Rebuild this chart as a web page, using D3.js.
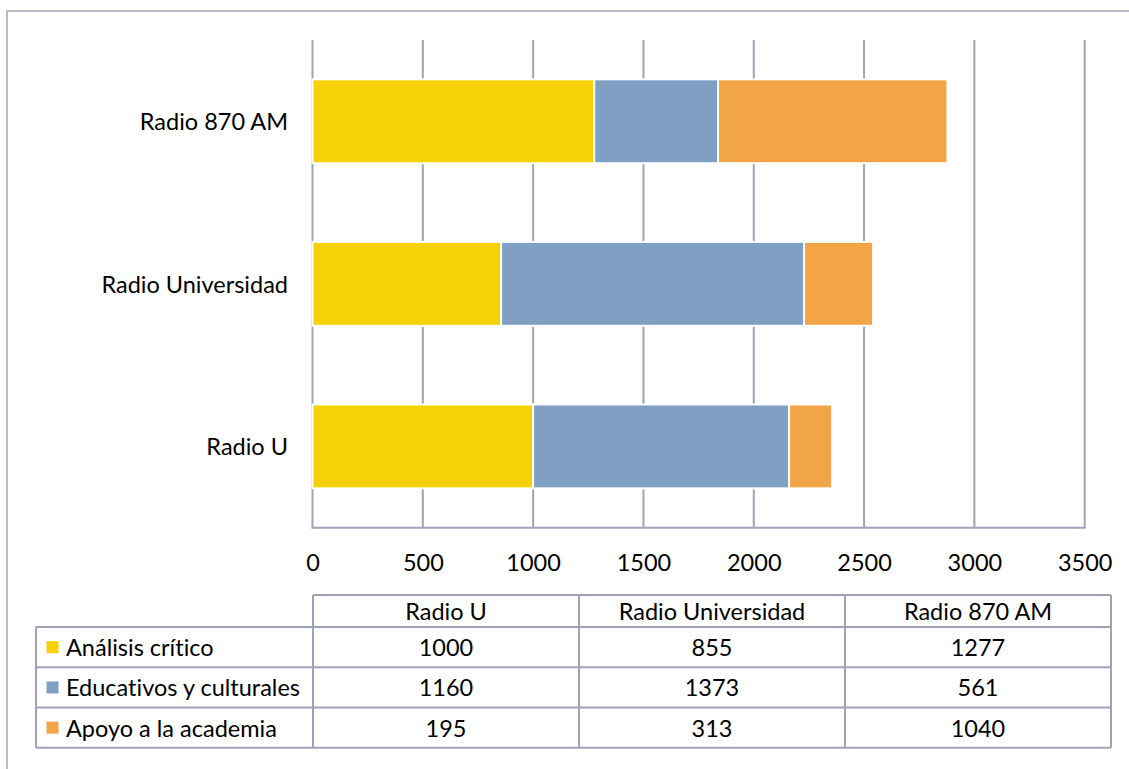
<!DOCTYPE html>
<html>
<head>
<meta charset="utf-8">
<script src="https://cdn.jsdelivr.net/npm/d3@7/dist/d3.min.js"></script>
<style>
  html, body { margin: 0; padding: 0; background: #ffffff; }
  svg { display: block; }
  text { font-family: Lato, "Noto Sans", sans-serif; fill: #000; font-variant-ligatures: none; }
</style>
</head>
<body>
<svg id="chart" width="1129" height="769"></svg>
<script>
// ---- data ----
const categories = ["Radio U", "Radio Universidad", "Radio 870 AM"];
const seriesNames = ["Análisis crítico", "Educativos y culturales", "Apoyo a la academia"];
const analisisCritico = [1000, 855, 1277];
const educativosCulturales = [1160, 1373, 561];
const apoyoAcademia = [195, 313, 1040];
const seriesColors = ["#F5D106", "#7F9FC3", "#F2A546"];
const xTicks = [0, 500, 1000, 1500, 2000, 2500, 3000, 3500];

const seriesValues = [analisisCritico, educativosCulturales, apoyoAcademia];
const rows = categories.map((c, i) => {
  const o = { category: c };
  seriesNames.forEach((s, j) => { o[s] = seriesValues[j][i]; });
  return o;
});

const svg = d3.select("#chart");
const gridColor = "#9EA3B7";
const fontSize = 23.5;

// outer frame
svg.append("rect")
  .attr("x", 7).attr("y", 11)
  .attr("width", 1140).attr("height", 780)
  .attr("fill", "none").attr("stroke", "#A3A7BA").attr("stroke-width", 1.5);

const plot = { left: 312.5, right: 1084.7, top: 40, bottom: 527.7 };

const x = d3.scaleLinear().domain([0, 3500]).range([plot.left, plot.right]);
const y = d3.scaleBand().domain(categories.slice().reverse())
  .range([plot.top, plot.bottom]).paddingInner(0.484).paddingOuter(0.242);

// gridlines
svg.append("g").selectAll("line").data(xTicks.filter(t => t > 0)).join("line")
  .attr("x1", d => x(d)).attr("x2", d => x(d))
  .attr("y1", plot.top).attr("y2", plot.bottom)
  .attr("stroke", gridColor).attr("stroke-width", 2);

// axes lines
svg.append("line")
  .attr("x1", x(0)).attr("x2", x(0)).attr("y1", plot.top).attr("y2", plot.bottom)
  .attr("stroke", gridColor).attr("stroke-width", 2);
svg.append("line")
  .attr("x1", x(0) - 1).attr("x2", x(3500) + 1).attr("y1", plot.bottom).attr("y2", plot.bottom)
  .attr("stroke", gridColor).attr("stroke-width", 2);

// stacked bars
const stack = d3.stack().keys(seriesNames)(rows);
svg.append("g").selectAll("g").data(stack).join("g")
  .attr("fill", (d, i) => seriesColors[i])
  .selectAll("rect").data(d => d).join("rect")
  .attr("x", d => x(d[0]))
  .attr("width", d => x(d[1]) - x(d[0]))
  .attr("y", d => y(d.data.category))
  .attr("height", y.bandwidth())
  .attr("stroke", "#ffffff").attr("stroke-width", 2);

// category labels
svg.append("g").selectAll("text").data(categories).join("text")
  .attr("x", 288)
  .attr("y", d => y(d) + y.bandwidth() / 2)
  .attr("text-anchor", "end")
  .attr("dominant-baseline", "central")
  .style("font-size", fontSize + "px")
  .text(d => d);

// tick labels
const xAxis = d3.axisBottom(x).tickValues(xTicks).tickFormat(d3.format("d")).tickSize(0).tickPadding(0);
const axG = svg.append("g").attr("transform", `translate(0,562)`).call(xAxis);
axG.select(".domain").remove();
axG.selectAll("text")
  .attr("y", 0).attr("dy", null)
  .attr("dominant-baseline", "central")
  .style("font-size", fontSize + "px")
  .style("font-family", "Lato, 'Noto Sans', sans-serif")
  .attr("fill", "#000");

// data table
const colEdges = [36, 313, 579, 845, 1111];
const headerTop = 595, headerBottom = 627;
const rowEdges = [627, 667.3, 707.6, 747.7];
const tableColor = "#9EA3B7";
const tbl = svg.append("g");

tbl.append("line").attr("x1", colEdges[1]).attr("x2", colEdges[4])
  .attr("y1", headerTop).attr("y2", headerTop);
rowEdges.forEach(yy => {
  tbl.append("line").attr("x1", colEdges[0]).attr("x2", colEdges[4])
    .attr("y1", yy).attr("y2", yy);
});
tbl.append("line").attr("x1", colEdges[0]).attr("x2", colEdges[0])
  .attr("y1", rowEdges[0]).attr("y2", rowEdges[3]);
colEdges.slice(1).forEach(xx => {
  tbl.append("line").attr("x1", xx).attr("x2", xx)
    .attr("y1", headerTop).attr("y2", rowEdges[3]);
});
tbl.selectAll("line").attr("stroke", tableColor).attr("stroke-width", 2);

categories.forEach((c, i) => {
  tbl.append("text")
    .attr("x", (colEdges[i + 1] + colEdges[i + 2]) / 2)
    .attr("y", (headerTop + headerBottom) / 2)
    .attr("text-anchor", "middle").attr("dominant-baseline", "central")
    .style("font-size", fontSize + "px")
    .text(c);
});

seriesNames.forEach((s, j) => {
  const cy = (rowEdges[j] + rowEdges[j + 1]) / 2;
  tbl.append("rect")
    .attr("x", 46.5).attr("y", cy - 6)
    .attr("width", 12).attr("height", 12)
    .attr("fill", seriesColors[j]);
  tbl.append("text")
    .attr("x", 66).attr("y", cy)
    .attr("dominant-baseline", "central")
    .style("font-size", fontSize + "px")
    .text(s);
  seriesValues[j].forEach((v, i) => {
    tbl.append("text")
      .attr("x", (colEdges[i + 1] + colEdges[i + 2]) / 2)
      .attr("y", cy)
      .attr("text-anchor", "middle").attr("dominant-baseline", "central")
      .style("font-size", fontSize + "px")
      .text(v);
  });
});
</script>
</body>
</html>
